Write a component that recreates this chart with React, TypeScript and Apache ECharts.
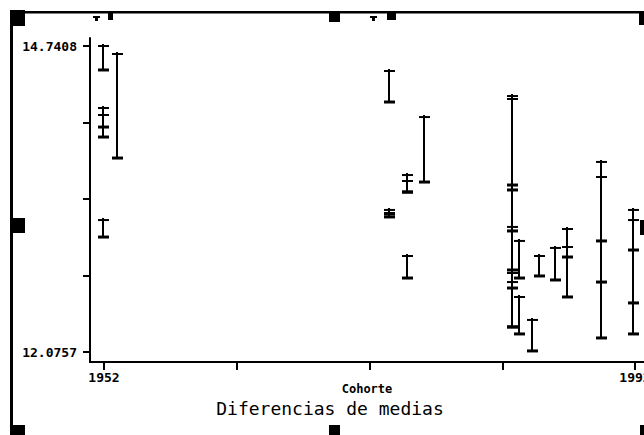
import { useEffect, useRef } from "react";
import * as echarts from "echarts";

// Cohort (x) of each interval
const cohorts = [
  1951.92, 1951.92, 1951.92, 1951.92, 1952.98,
  1973.47, 1976.11, 1974.82, 1974.82, 1973.47, 1973.47, 1974.82,
  1982.73, 1982.73, 1982.73, 1982.73, 1982.73, 1982.73, 1982.73,
  1983.26, 1983.26, 1984.24, 1984.77, 1985.97, 1986.88, 1986.88,
  1989.44, 1989.44, 1989.44, 1991.85, 1991.85, 1991.85,
];
// Upper bound of each interval
const upperBounds = [
  14.741, 14.201, 14.14, 13.225, 14.671,
  14.523, 14.122, 13.617, 13.565, 13.313, 13.286, 12.912,
  14.305, 14.279, 13.53, 13.165, 13.13, 12.764, 12.685,
  13.043, 12.555, 12.355, 12.912, 12.982, 13.147, 12.99,
  13.731, 13.6, 12.685, 13.313, 13.225, 12.503,
];
// Lower bound of each interval
const lowerBounds = [
  14.532, 14.035, 13.948, 13.077, 13.765,
  14.253, 13.556, 13.469, 13.469, 13.278, 13.252, 12.72,
  13.487, 13.53, 13.13, 12.633, 12.79, 12.294, 12.294,
  12.72, 12.233, 12.085, 12.738, 12.703, 12.555, 12.903,
  13.043, 12.685, 12.198, 12.964, 12.503, 12.233,
];

const xTickValues = [1952, 1962, 1972, 1982, 1992];
const xLabelValues = [1952, 1992];
const yTickValues = [12.0757, 12.742, 13.4083, 14.0745, 14.7408];
const yLabelValues = [12.0757, 14.7408];

const xMin = 1950.945;
const xMax = 1992.678;
const yMin = 11.9887;
const yMax = 14.8105;

export default function App() {
  const ref = useRef<HTMLDivElement>(null);
  useEffect(() => {
    if (!ref.current) return;
    const chart = echarts.init(ref.current, null, { renderer: "svg" });
    const data = cohorts.map((c, i) => [c, upperBounds[i], lowerBounds[i]]);
    const black = "#000";
    const r = (x: number, y: number, w: number, h: number) => ({
      type: "rect",
      shape: { x, y, width: w, height: h },
      style: { fill: black },
      silent: true,
    });
    chart.setOption({
      animation: false,
      backgroundColor: "#fff",
      title: {
        text: "Diferencias de medias",
        left: 330,
        top: 399,
        padding: 0,
        textAlign: "center",
        textStyle: {
          fontFamily: "DejaVu Sans Mono",
          fontSize: 18,
          fontWeight: "normal",
          color: black,
        },
      },
      grid: { left: 90, right: 0, top: 38, bottom: 73, containLabel: false, outerBoundsMode: "none" },
      xAxis: {
        type: "value",
        min: xMin,
        max: xMax,
        name: "Cohorte",
        nameLocation: "middle",
        nameGap: 21,
        nameMoveOverlap: false,
        nameTextStyle: {
          fontFamily: "DejaVu Sans Mono",
          fontSize: 12,
          fontWeight: "bold",
          color: black,
          lineHeight: 12,
        },
        axisLine: { show: true, onZero: false, lineStyle: { color: black, width: 2 } },
        axisTick: { show: true, length: 8, customValues: xTickValues, lineStyle: { color: black, width: 2 } },
        axisLabel: {
          show: true,
          customValues: xLabelValues,
          margin: 9,
          fontFamily: "DejaVu Sans Mono",
          fontSize: 13,
          fontWeight: "bold",
          color: black,
          hideOverlap: false,
          formatter: (v: number) => String(Math.round(v)),
        },
        splitLine: { show: false },
      },
      yAxis: {
        type: "value",
        min: yMin,
        max: yMax,
        axisLine: { show: true, onZero: false, lineStyle: { color: black, width: 2 } },
        axisTick: { show: true, length: 7, customValues: yTickValues, lineStyle: { color: black, width: 2 } },
        axisLabel: {
          show: true,
          customValues: yLabelValues,
          margin: 13,
          fontFamily: "DejaVu Sans Mono",
          fontSize: 13,
          fontWeight: "bold",
          color: black,
          formatter: (v: number) => v.toFixed(4),
        },
        splitLine: { show: false },
      },
      series: [
        {
          type: "custom",
          clip: false,
          data,
          encode: { x: 0, y: [1, 2] },
          renderItem: (_params: any, api: any) => {
            const x = api.value(0);
            const hi = api.value(1);
            const lo = api.value(2);
            const pTop = api.coord([x, hi]);
            const pBot = api.coord([x, lo]);
            const cx = Math.round(pTop[0]);
            const st = { stroke: black, lineWidth: 2 };
            return {
              type: "group",
              children: [
                { type: "line", shape: { x1: cx, y1: pTop[1] - 2, x2: cx, y2: pBot[1] }, style: st },
                { type: "line", shape: { x1: cx - 5, y1: pTop[1], x2: cx + 6, y2: pTop[1] }, style: st },
                { type: "line", shape: { x1: cx - 5, y1: pBot[1], x2: cx + 6, y2: pBot[1] }, style: { stroke: black, lineWidth: 3 } },
              ],
            };
          },
        },
      ],
      graphic: [
        // frame
        r(10, 11, 3, 424),
        r(10, 11, 634, 2.5),
        // handles
        r(10, 10, 15, 16),
        r(329, 11, 11, 11),
        r(639, 11, 5, 14),
        r(10, 218, 15, 15),
        r(640, 220, 4, 15),
        r(10, 425, 15, 10),
        r(329, 425, 11, 10),
        r(640, 425, 4, 10),
        // small top markers
        r(93, 16, 7, 2),
        r(95, 18, 3, 3),
        r(108, 11, 5, 9),
        r(370, 16, 7, 2),
        r(372, 18, 3, 3),
        r(387, 11, 9, 9),
      ],
    });
    return () => chart.dispose();
  }, []);
  return (
    <div
      ref={ref}
      style={{ position: "absolute", left: 0, top: 0, width: 644, height: 435 }}
    />
  );
}
